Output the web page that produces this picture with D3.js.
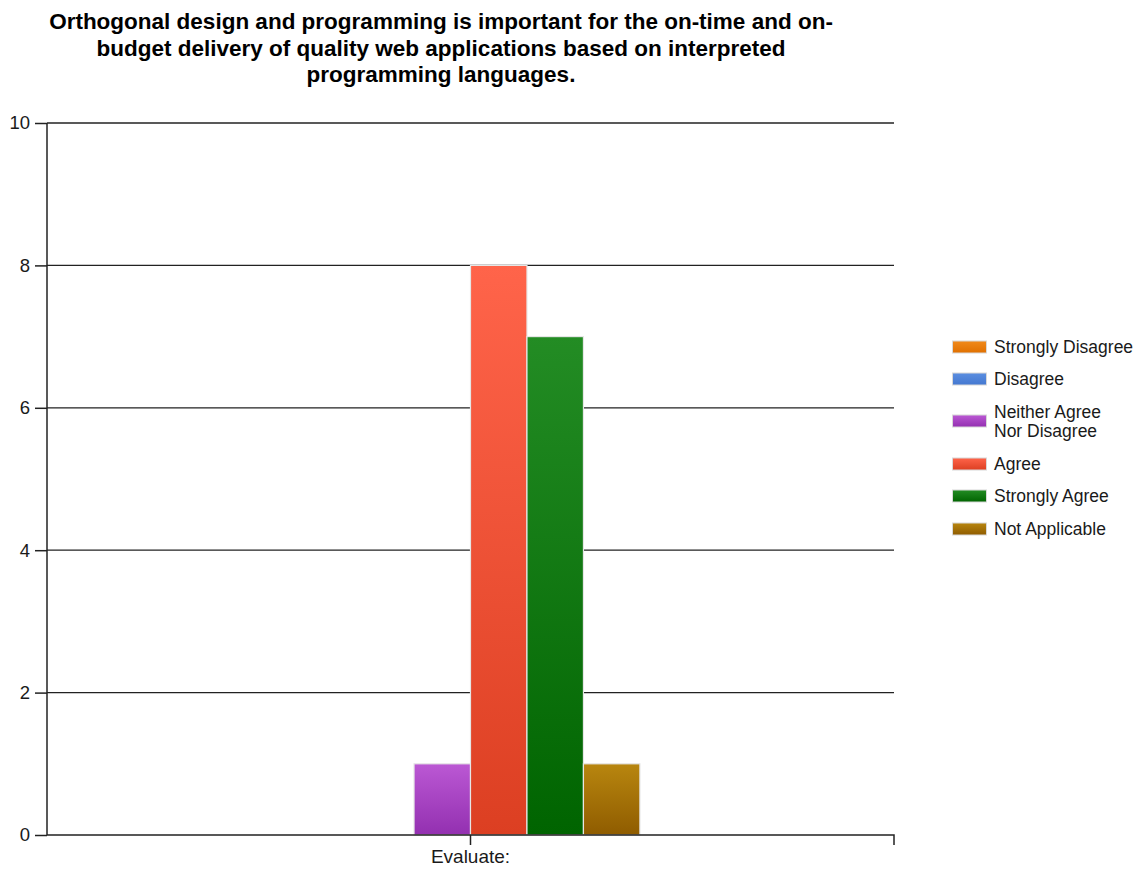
<!DOCTYPE html>
<html>
<head>
<meta charset="utf-8">
<script src="https://cdn.jsdelivr.net/npm/d3@7"></script>
<style>
body { margin: 0; background: #fff; }
text { font-family: "Liberation Sans", Arial, sans-serif; fill: #1a1a1a; }
</style>
</head>
<body>
<svg id="chart" width="1138" height="869"></svg>
<script>
var titleLines = [
    "Orthogonal design and programming is important for the on-time and on-",
    "budget delivery of quality web applications based on interpreted",
    "programming languages."
];
var categories = ["Evaluate:"];
var seriesNames = ["Strongly Disagree", "Disagree", "Neither Agree Nor Disagree", "Agree", "Strongly Agree", "Not Applicable"];
var legendLabels = [["Strongly Disagree"], ["Disagree"], ["Neither Agree", "Nor Disagree"], ["Agree"], ["Strongly Agree"], ["Not Applicable"]];
var values = [0, 0, 1, 8, 7, 1];
var yTicks = [0, 2, 4, 6, 8, 10];
var topColors = ["#f08a1c", "#5b8ee0", "#bb58d4", "#ff644a", "#238c24", "#b8860f"];
var bottomColors = ["#e07000", "#4478d0", "#9330b0", "#dc3f22", "#006400", "#8f5c00"];

var svg = d3.select("#chart");
var margin = {left: 47, right: 244, top: 123, bottom: 34};
var width = 1138 - margin.left - margin.right;
var height = 869 - margin.top - margin.bottom;

// title
svg.append("g").selectAll("text")
    .data(titleLines)
    .enter()
    .append("text")
    .attr("x", 441)
    .attr("y", (d, i) => 29 + i * 26.5)
    .attr("text-anchor", "middle")
    .style("font-weight", "bold")
    .style("font-size", "22.5px")
    .style("fill", "#000")
    .text(d => d);

var defs = svg.append("defs");
seriesNames.forEach((s, i) => {
    var g = defs.append("linearGradient")
        .attr("id", "grad" + i)
        .attr("x1", 0).attr("y1", 0).attr("x2", 0).attr("y2", 1);
    g.append("stop").attr("offset", "0%").attr("stop-color", topColors[i]);
    g.append("stop").attr("offset", "100%").attr("stop-color", bottomColors[i]);
});

var plot = svg.append("g")
    .attr("transform", "translate(" + margin.left + "," + margin.top + ")");

var x = d3.scaleBand().domain(categories).range([0, width]);
var xInner = d3.scaleBand().domain(seriesNames)
    .range([x.bandwidth() * 0.3, x.bandwidth() * 0.7]);
var y = d3.scaleLinear().domain([0, 10]).range([height, 0]);

// grid lines
plot.append("g").selectAll("line")
    .data(yTicks.filter(d => d > 0))
    .enter()
    .append("line")
    .attr("x1", 0)
    .attr("x2", width)
    .attr("y1", d => y(d))
    .attr("y2", d => y(d))
    .attr("stroke", "#222")
    .attr("stroke-width", 1.3);

// bars
plot.append("g").selectAll("rect")
    .data(values)
    .enter()
    .append("rect")
    .attr("x", (d, i) => x(categories[0]) + xInner(seriesNames[i]))
    .attr("width", xInner.bandwidth())
    .attr("y", d => y(d))
    .attr("height", d => height - y(d))
    .attr("fill", (d, i) => "url(#grad" + i + ")")
    .attr("stroke", "#e6e6e6")
    .attr("stroke-width", 1.2)
    .style("display", d => d > 0 ? null : "none");

// y axis
var yAxis = plot.append("g")
    .call(d3.axisLeft(y).tickValues(yTicks).tickSize(12).tickPadding(5));
yAxis.selectAll("text").style("font-size", "18.5px").style("font-family", "Liberation Sans, Arial, sans-serif").attr("fill", "#1a1a1a");
yAxis.selectAll("line, path").attr("stroke", "#222").attr("stroke-width", 1.5);
yAxis.select(".domain").attr("d", "M0," + height + "V0");

// x axis
var xAxis = plot.append("g")
    .attr("transform", "translate(0," + height + ")")
    .call(d3.axisBottom(x).tickSizeInner(10).tickSizeOuter(0).tickPadding(5));
xAxis.selectAll("text").style("font-size", "19px").style("font-family", "Liberation Sans, Arial, sans-serif").attr("fill", "#1a1a1a");
xAxis.selectAll("line, path").attr("stroke", "#222").attr("stroke-width", 1.5);
xAxis.select(".domain").attr("d", "M0,0H" + width + "V10");

// legend
var legendY = [347, 379, 421, 464, 496, 529];
var legend = svg.append("g").selectAll("g")
    .data(seriesNames)
    .enter()
    .append("g")
    .attr("transform", (d, i) => "translate(952," + legendY[i] + ")");
legend.append("rect")
    .attr("x", 0.5)
    .attr("y", -6)
    .attr("width", 34)
    .attr("height", 12)
    .attr("fill", (d, i) => "url(#grad" + i + ")")
    .attr("stroke", "#d8d8d8")
    .attr("stroke-width", 1);
legend.append("text")
    .style("font-size", "17.5px")
    .selectAll("tspan")
    .data((d, i) => legendLabels[i])
    .enter()
    .append("tspan")
    .attr("x", 42)
    .attr("y", (d, j, nodes) => 6 + (j - (nodes.length - 1) / 2) * 19)
    .text(d => d);
</script>
</body>
</html>
